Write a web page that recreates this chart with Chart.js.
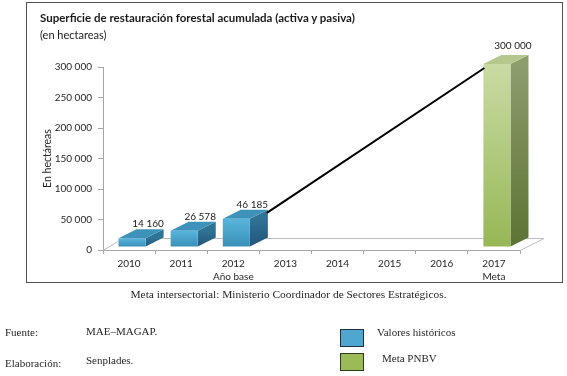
<!DOCTYPE html>
<html><head><meta charset="utf-8">
<script src="https://cdn.jsdelivr.net/npm/chart.js@4/dist/chart.umd.min.js"></script>
<style>
html,body{margin:0;padding:0;background:#fff;}
#wrap{position:relative;width:567px;height:376px;overflow:hidden;}
canvas{position:absolute;left:0;top:0;}
.t{position:absolute;white-space:nowrap;line-height:14px;color:#1a1a1a;}
.c{font-family:Lato,sans-serif;}
.s{font-family:"Liberation Serif",serif;font-size:11px;color:#262626;}
#box{position:absolute;left:26px;top:2px;width:535px;height:279px;border:1px solid #505050;}
.lg{position:absolute;width:22px;height:16px;border:1.5px solid #2a2a2a;}
</style></head>
<body><div id="wrap">
<canvas id="c" width="567" height="376"></canvas>
<div id="box"></div>
<div class="t c" style="left:40px;top:11px;font-size:11.5px;font-weight:bold;">Superficie de restauración forestal acumulada (activa y pasiva)</div>
<div class="t c" style="left:40px;top:28px;font-size:11px;">(en hectareas)</div>
<div class="t s" style="left:5px;width:567px;text-align:center;top:287px;font-size:11.4px;">Meta intersectorial: Ministerio Coordinador de Sectores Estratégicos.</div>
<div class="t s" style="left:5px;top:325px;">Fuente:</div>
<div class="t s" style="left:86px;top:324px;">MAE–MAGAP.</div>
<div class="t s" style="left:5px;top:356px;">Elaboración:</div>
<div class="t s" style="left:86px;top:353px;">Senplades.</div>
<div class="lg" style="left:340px;top:329px;background:#4fa7d0;border-color:#1f3040;"></div>
<div class="t s" style="left:377px;top:325px;">Valores históricos</div>
<div class="lg" style="left:340px;top:353px;background:#9bbb59;border-color:#2f3a1c;"></div>
<div class="t s" style="left:382px;top:351px;">Meta PNBV</div>
</div>
<script>
const categories = [['2010'], ['2011'], ['2012', 'Año base'], ['2013'], ['2014'], ['2015'], ['2016'], ['2017', 'Meta']];
const historicos = [14160, 26578, 46185, null, null, null, null, null];
const metaPNBV = [null, null, null, null, null, null, null, 300000];
const yTickValues = [0, 50000, 100000, 150000, 200000, 250000, 300000];
const yTickLabels = ['0', '50 000', '100 000', '150 000', '200 000', '250 000', '300 000'];

const FONT = 'Lato';
const OFF_X = 3, OFF_Y = -3;   // front-face shift
const DX = 18, DY = -9;        // bar depth
const FDX = 24, FDY = -12;     // floor depth

function fmt(v) { return String(v).replace(/\B(?=(\d{3})+(?!\d))/g, ' '); }

const palettes = [
  {front: ['#58b5dc', '#3a90b8'], side: ['#2f7396', '#22567a'], top: '#3d92ba'},
  {front: ['#c9dba4', '#97b755'], side: ['#8d9d6c', '#5b7333'], top: '#b4c78c'}
];

function barGeom(el) {
  const p = el.getProps(['x', 'y', 'base', 'width'], true);
  const l = p.x - p.width / 2 + OFF_X, r = p.x + p.width / 2 + OFF_X;
  return {l, r, t: p.y + OFF_Y, b: p.base + OFF_Y, cx: p.x, y: p.y};
}

const bar3d = {
  id: 'bar3d',
  beforeDatasetsDraw(chart) {
    const ctx = chart.ctx, ca = chart.chartArea;
    ctx.save();
    ctx.strokeStyle = '#bfbfbf';
    ctx.lineWidth = 1;
    ctx.beginPath();
    ctx.moveTo(ca.left, ca.bottom + 0.5);
    ctx.lineTo(ca.left + FDX - 4, ca.bottom + FDY + 0.5);
    ctx.lineTo(ca.right + FDX, ca.bottom + FDY + 0.5);
    ctx.lineTo(ca.right, ca.bottom + 0.5);
    ctx.stroke();
    ctx.restore();
  },
  beforeDatasetDraw(chart, args) {
    const ctx = chart.ctx;
    const ds = chart.data.datasets[args.index];
    const pal = palettes[args.index];
    args.meta.data.forEach((el, i) => {
      if (ds.data[i] == null) return;
      const g = barGeom(el);
      ctx.save();
      let gr = ctx.createLinearGradient(0, g.t, 0, g.b);
      gr.addColorStop(0, pal.side[0]); gr.addColorStop(1, pal.side[1]);
      ctx.fillStyle = gr;
      ctx.beginPath();
      ctx.moveTo(g.r, g.t); ctx.lineTo(g.r + DX, g.t + DY); ctx.lineTo(g.r + DX, g.b + DY); ctx.lineTo(g.r, g.b);
      ctx.closePath(); ctx.fill();
      ctx.fillStyle = pal.top;
      ctx.beginPath();
      ctx.moveTo(g.l, g.t); ctx.lineTo(g.l + DX, g.t + DY); ctx.lineTo(g.r + DX, g.t + DY); ctx.lineTo(g.r, g.t);
      ctx.closePath(); ctx.fill();
      gr = ctx.createLinearGradient(0, g.t, 0, g.b);
      gr.addColorStop(0, pal.front[0]); gr.addColorStop(1, pal.front[1]);
      ctx.fillStyle = gr;
      ctx.fillRect(g.l, g.t, g.r - g.l, g.b - g.t);
      ctx.restore();
    });
    return false;
  },
  afterDatasetsDraw(chart) {
    const ctx = chart.ctx;
    const m0 = chart.getDatasetMeta(0), m1 = chart.getDatasetMeta(1);
    const a = barGeom(m0.data[2]), b = barGeom(m1.data[7]);
    ctx.save();
    ctx.strokeStyle = '#000';
    ctx.lineWidth = 2;
    ctx.beginPath();
    ctx.moveTo(a.r + DX - 1, a.t + DY + 3);
    ctx.lineTo(b.l + 1, b.t + 4);
    ctx.stroke();
    ctx.fillStyle = '#1a1a1a';
    ctx.font = '10px ' + FONT;
    ctx.textAlign = 'center';
    ctx.textBaseline = 'middle';
    [0, 1].forEach(di => {
      const ds = chart.data.datasets[di];
      chart.getDatasetMeta(di).data.forEach((el, i) => {
        if (ds.data[i] == null) return;
        const g = barGeom(el);
        ctx.fillText(fmt(ds.data[i]), g.cx + 19, g.y - (di === 1 ? 21 : 17.5));
      });
    });
    ctx.restore();
  }
};

new Chart(document.getElementById('c'), {
  type: 'bar',
  data: {
    labels: categories,
    datasets: [
      {label: 'Valores históricos', data: historicos, backgroundColor: '#4fa7d0', grouped: false,
       barPercentage: 0.52, categoryPercentage: 1},
      {label: 'Meta PNBV', data: metaPNBV, backgroundColor: '#9bbb59', grouped: false,
       barPercentage: 0.52, categoryPercentage: 1}
    ]
  },
  options: {
    responsive: false,
    animation: false,
    layout: {padding: {left: 0, right: 47, top: 67, bottom: 93}},
    plugins: {legend: {display: false}, tooltip: {enabled: false}},
    scales: {
      x: {
        grid: {offset: true, drawOnChartArea: false, tickLength: 4, color: '#a6a6a6'},
        border: {color: '#a6a6a6'},
        ticks: {font: {family: FONT, size: 10, lineHeight: 1.3}, color: '#262626', padding: 3,
                maxRotation: 0, autoSkip: false},
        afterFit(s) { s.height = 33; }
      },
      y: {
        min: 0, max: 300000,
        afterBuildTicks(s) { s.ticks = yTickValues.map(v => ({value: v})); },
        ticks: {font: {family: FONT, size: 10}, color: '#262626', padding: 6,
                callback: (v) => yTickLabels[yTickValues.indexOf(v)]},
        grid: {drawOnChartArea: false, tickLength: 5, color: '#a6a6a6'},
        border: {color: '#a6a6a6'},
        title: {display: true, text: 'En hectáreas', font: {family: FONT, size: 10.5}, color: '#262626',
                padding: {top: 41.5, bottom: 0}},
        afterFit(s) { s.width = 103; }
      }
    }
  },
  plugins: [bar3d]
});
</script>
</body></html>
